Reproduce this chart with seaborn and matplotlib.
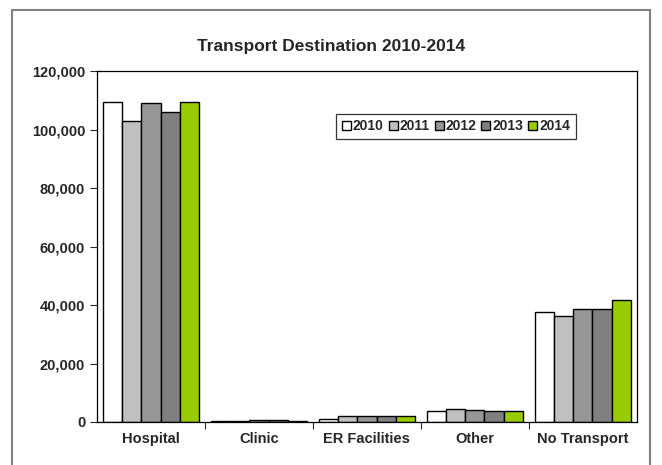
import pandas as pd
import seaborn as sns
import matplotlib.pyplot as plt
from matplotlib.patches import Rectangle
from matplotlib.ticker import FuncFormatter

categories = ["Hospital", "Clinic", "ER Facilities", "Other", "No Transport"]
years = ["2010", "2011", "2012", "2013", "2014"]
values = {
    "2010": [109500, 400, 900, 3650, 37700],
    "2011": [102900, 500, 2000, 4550, 36400],
    "2012": [109000, 600, 2000, 4000, 38800],
    "2013": [105900, 600, 2200, 3750, 38500],
    "2014": [109500, 500, 2200, 3900, 41800],
}
colors = ["#FFFFFF", "#C0C0C0", "#969696", "#808080", "#99CC00"]

if __name__ == "__main__":
    df = pd.DataFrame({
        "destination": categories * len(years),
        "count": sum([values[y] for y in years], []),
        "year": [y for y in years for _ in categories],
    })

    sns.set_style("white")
    plt.rcParams['font.family'] = ['Liberation Sans', 'DejaVu Sans']

    fig = plt.figure(figsize=(6.62, 4.65), dpi=100)
    ax = fig.add_axes([0.1465, 0.0925, 0.8155, 0.7545])

    sns.barplot(x="destination", y="count", hue="year", data=df, palette=colors,
                order=categories, hue_order=years, width=0.89, edgecolor="black",
                linewidth=1.0, saturation=1, ax=ax)

    ax.set_ylim(0, 120000)
    ax.set_xlim(-0.5, 4.5)
    ax.set_yticks(range(0, 120001, 20000))
    ax.yaxis.set_major_formatter(FuncFormatter(lambda v, p: f"{int(v):,}"))
    ax.set_xticks(range(5))
    ax.set_xticklabels(categories)
    ax.set_xticks([0.5, 1.5, 2.5, 3.5], minor=True)
    ax.tick_params(axis="x", which="major", length=0, pad=7)
    ax.tick_params(axis="x", which="minor", length=5, direction="out", width=0.8, bottom=True)
    ax.tick_params(axis="y", length=5, direction="out", width=0.8, left=True)
    for lab in ax.get_xticklabels() + ax.get_yticklabels():
        lab.set_fontweight("bold")
        lab.set_fontsize(10.5)
    ax.set_xlabel("")
    ax.set_ylabel("")
    for s in ax.spines.values():
        s.set_color("black")
        s.set_linewidth(0.9)

    leg = ax.legend(loc="upper left", bbox_to_anchor=(0.443, 0.879), ncol=5, frameon=True,
                    fancybox=False, edgecolor="black", handlelength=0.65, handleheight=0.65,
                    handletextpad=0.15, columnspacing=0.35, borderpad=0.4, borderaxespad=0,
                    prop={"weight": "bold", "size": 10})
    leg.get_frame().set_linewidth(0.9)

    fig.text(0.5, 0.9, "Transport Destination 2010-2014", ha="center", va="center",
             fontsize=12.5, fontweight="bold")
    fig.patches.append(Rectangle((12 / 662, -0.05), 638 / 662, 1 - 10 / 465 + 0.05,
                                 transform=fig.transFigure, fill=False,
                                 edgecolor="#808080", linewidth=1.5))

    fig.savefig("out.png", dpi=100)
